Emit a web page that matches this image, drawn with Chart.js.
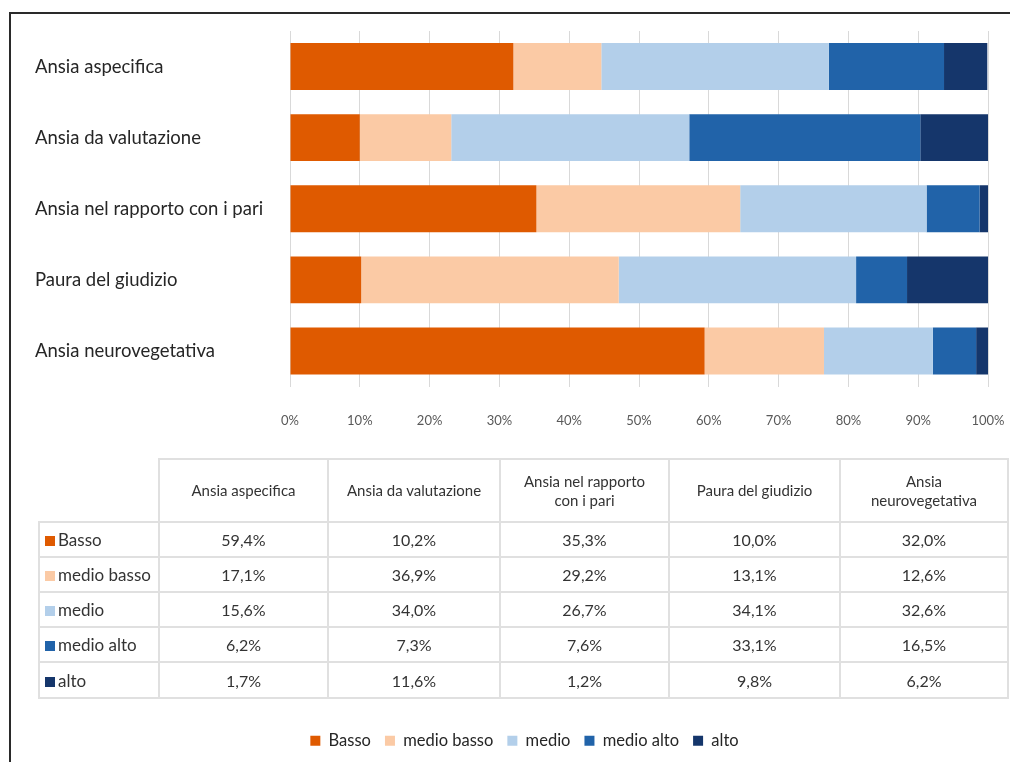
<!DOCTYPE html>
<html>
<head>
<meta charset="utf-8">
<script src="https://cdn.jsdelivr.net/npm/chart.js@4/dist/chart.umd.min.js"></script>
<style>
  html, body { margin: 0; padding: 0; background: #ffffff; }
  body { width: 1010px; height: 762px; position: relative; overflow: hidden; font-family: Lato, "Open Sans", sans-serif; }
  #frame { position: absolute; left: 9px; top: 12px; width: 1010px; height: 760px; border-top: 2px solid #2a2a2a; border-left: 2px solid #2a2a2a; box-sizing: border-box; }
  #wrap { position: absolute; left: 0; top: 0; width: 1010px; height: 762px; }
  #tbl { position: absolute; left: 38px; top: 458px; border-collapse: collapse; table-layout: fixed; color: #333333; }
  #tbl td { border: 2px solid #e0e0e0; text-align: center; padding: 0; font-size: 16px; height: 33px; }
  #tbl tr.last td { height: 34px; }
  #tbl tr.head td { height: 61px; font-size: 15px; line-height: 19px; }
  #tbl td.blank { border: none; border-bottom: 2px solid #e0e0e0; }
  #tbl td.lab { text-align: left; padding-left: 5px; font-size: 17px; white-space: nowrap; }
  #tbl td.lab span.sw { display: inline-block; width: 10px; height: 10px; margin-right: 3px; vertical-align: 0px; }
</style>
</head>
<body>
<div id="frame"></div>
<div id="wrap"><canvas id="c" width="1010" height="762"></canvas></div>
<table id="tbl"></table>
<script>
// Categories as listed on the bar axis (top to bottom) and in the table header
const categories = ["Ansia aspecifica", "Ansia da valutazione", "Ansia nel rapporto con i pari", "Paura del giudizio", "Ansia neurovegetativa"];
const tableHeaders = ["Ansia aspecifica", "Ansia da valutazione", "Ansia nel rapporto\ncon i pari", "Paura del giudizio", "Ansia\nneurovegetativa"];
const levels = ["Basso", "medio basso", "medio", "medio alto", "alto"];
const colors = ["#df5a00", "#fbcaa5", "#b3cfea", "#2163a9", "#15366b"];

// Values as printed in the data table (column order of the table header)
const basso      = [59.4, 10.2, 35.3, 10.0, 32.0];
const medioBasso = [17.1, 36.9, 29.2, 13.1, 12.6];
const medio      = [15.6, 34.0, 26.7, 34.1, 32.6];
const medioAlto  = [6.2, 7.3, 7.6, 33.1, 16.5];
const alto       = [1.7, 11.6, 1.2, 9.8, 6.2];
const tickLabels = ["0%", "10%", "20%", "30%", "40%", "50%", "60%", "70%", "80%", "90%", "100%"];

const series = [basso, medioBasso, medio, medioAlto, alto];

// The bars are drawn with the table columns in reverse order (as in the original figure)
const datasets = series.map((s, i) => ({
  label: levels[i],
  data: s.slice().reverse(),
  backgroundColor: colors[i],
  borderWidth: 0,
  barPercentage: 0.66,
  categoryPercentage: 1.0
}));

// Build table
const tbl = document.getElementById('tbl');
const colW = [120, 169, 172, 169, 171, 168];
let html = '<colgroup>' + colW.map(w => '<col style="width:' + w + 'px">').join('') + '</colgroup>';
html += '<tr class="head"><td class="blank"></td>' + tableHeaders.map(h => '<td>' + h.replace('\n', '<br>') + '</td>').join('') + '</tr>';
levels.forEach((lv, i) => {
  html += '<tr' + (i === levels.length - 1 ? ' class="last"' : '') + '><td class="lab"><span class="sw" style="background:' + colors[i] + '"></span>' + lv + '</td>' +
    series[i].map(v => '<td>' + v.toFixed(1).replace('.', ',') + '%</td>').join('') + '</tr>';
});
tbl.innerHTML = html;
tbl.style.width = colW.reduce((a, b) => a + b, 0) + 'px';

Chart.defaults.font.family = 'Lato, "Open Sans", sans-serif';
Chart.defaults.color = '#404040';

// Shift the legend slightly right so it is centred like the original
const legendShift = {
  id: 'legendShift',
  afterLayout(chart) {
    if (chart.legend) { chart.legend.left += 13; chart.legend.right += 13; }
  }
};

new Chart(document.getElementById('c'), {
  type: 'bar',
  data: { labels: categories, datasets: datasets },
  plugins: [legendShift],
  options: {
    indexAxis: 'y',
    responsive: false,
    animation: false,
    layout: { padding: { left: 35, right: 22, top: 31, bottom: 3 } },
    scales: {
      x: {
        stacked: true,
        min: 0, max: 100,
        ticks: {
          stepSize: 10,
          padding: 27,
          color: '#595959',
          font: { size: 13 },
          callback: (v, i) => tickLabels[i]
        },
        grid: { color: '#d9d9d9', lineWidth: 1, drawTicks: false },
        border: { display: false },
        afterFit: (scale) => { scale.height = 332; scale.paddingRight = 0; scale.paddingLeft = 0; }
      },
      y: {
        stacked: true,
        ticks: { crossAlign: 'far', color: '#262626', font: { size: 18.5 }, padding: 10 },
        grid: { display: false, drawTicks: false },
        border: { display: true, color: '#d9d9d9', width: 1 },
        afterFit: (scale) => { scale.width = 255; }
      }
    },
    plugins: {
      legend: {
        position: 'bottom',
        labels: { boxWidth: 10, boxHeight: 10, padding: 14, color: '#262626', font: { size: 16.5 } }
      },
      tooltip: { enabled: false }
    }
  }
});
</script>
</body>
</html>
